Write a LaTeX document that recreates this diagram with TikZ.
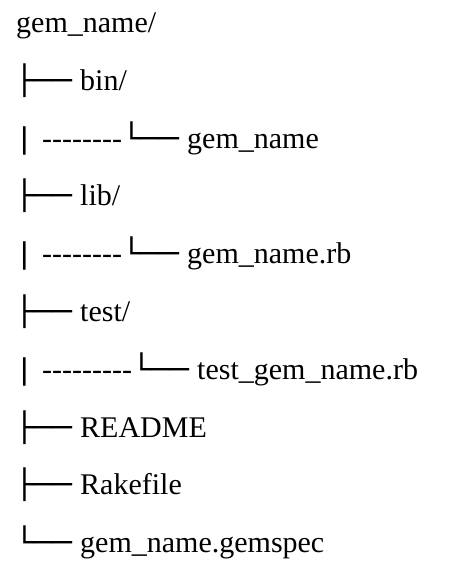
\documentclass[tikz,border=0pt]{standalone}
\usepackage{fontspec}
\usetikzlibrary{positioning}
\newfontfamily\namefont{Liberation Serif}
\newfontfamily\boxfont{DejaVu Sans}[FakeStretch=1.1]
\newcommand\dashes[1]{\foreach \k in {1,...,#1}{-}}

\begin{document}
\begin{tikzpicture}[x=1pt,y=1pt,
  entry/.style={anchor=base west,inner sep=0pt,font=\namefont\fontsize{30}{36}\selectfont},
  glyph/.style={anchor=base west,inner sep=0pt,font=\boxfont\fontsize{28.5}{34}\selectfont}]
\useasboundingbox (0,0) rectangle (464,-575);
\node[entry] (root) at (16,-32.5) {gem\_name/};
\node[glyph] (b1) at (15.6,-90.3) {├──};\node[entry] (bin) at (80,-90.3) {bin/};
\node[glyph] (p1) at (19.7,-148.1) {|};\node[entry] (d1) at (42,-148.1) {\dashes{8}};
\node[glyph] (l1) at (122.6,-148.1) {└──};\node[entry] (exe) at (187,-148.1) {gem\_name};
\node[glyph] (b2) at (15.6,-205.9) {├──};\node[entry] (lib) at (80,-205.9) {lib/};
\node[glyph] (p2) at (19.7,-263.7) {|};\node[entry] (d2) at (42,-263.7) {\dashes{8}};
\node[glyph] (l2) at (122.6,-263.7) {└──};\node[entry] (rb) at (187,-263.7) {gem\_name.rb};
\node[glyph] (b3) at (15.6,-321.5) {├──};\node[entry] (test) at (80,-321.5) {test/};
\node[glyph] (p3) at (19.7,-379.3) {|};\node[entry] (d3) at (42,-379.3) {\dashes{9}};
\node[glyph] (l3) at (132.3,-379.3) {└──};\node[entry] (trb) at (197,-379.3) {test\_gem\_name.rb};
\node[glyph] (b4) at (15.6,-437.1) {├──};\node[entry] (readme) at (80,-437.1) {README};
\node[glyph] (b5) at (15.6,-494.9) {├──};\node[entry] (rake) at (80,-494.9) {Rakefile};
\node[glyph] (l4) at (15.6,-552.7) {└──};\node[entry] (spec) at (80,-552.7) {gem\_name.gemspec};
\end{tikzpicture}
\end{document}
